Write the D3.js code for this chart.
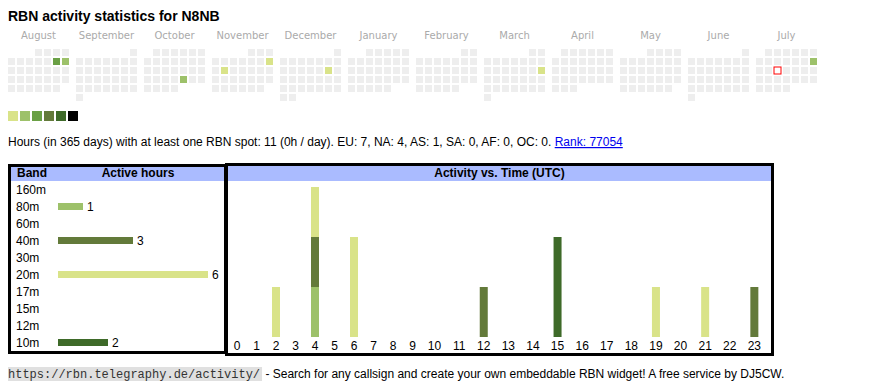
<!DOCTYPE html>
<html>
<head>
<meta charset="utf-8">
<script src="https://cdn.jsdelivr.net/npm/d3@7"></script>
<style>
body { margin: 0; background: #fff; }
text { font-family: Arial, "Liberation Sans", sans-serif; font-size: 12px; fill: #000; }
.month { font-family: "DejaVu Sans", Verdana, sans-serif; font-size: 10px; fill: #aaa; }
.bold { font-weight: bold; }
.mono { font-family: "Liberation Mono", "Courier New", monospace; font-size: 12px; fill: #333; }
</style>
</head>
<body>
<script>
// calendar data (one year, Aug 2024 - Jul 2025)
const monthNames = ["August", "September", "October", "November", "December", "January",
    "February", "March", "April", "May", "June", "July"];
const firstMonth = "2024-08-01";
const activeDays = ["2024-08-10", "2024-08-11", "2024-10-25", "2024-11-10", "2024-11-12",
    "2024-12-14", "2025-03-16", "2025-07-13"];
const activeLevels = [3, 2, 2, 1, 1, 1, 1, 2];
const today = "2025-07-16";
const levelColors = ["#d9e389", "#9dc16a", "#6aa045", "#637a3a", "#3e6a29", "#000000"];

// bands
const bands = ["160m", "80m", "60m", "40m", "30m", "20m", "17m", "15m", "12m", "10m"];
const bandHours = [0, 1, 0, 3, 0, 6, 0, 0, 0, 2];
const bandColors = ["#000000", "#9dc16a", "#6aa045", "#637a3a", "#6aa045", "#d9e389",
    "#9dc16a", "#637a3a", "#6aa045", "#3e6a29"];

// activity vs. hour of day (UTC), per band
const hours = d3.range(0, 24);
const act80m = [0,0,0,0,1,0,0,0,0,0,0,0,0,0,0,0,0,0,0,0,0,0,0,0];
const act40m = [0,0,0,0,1,0,0,0,0,0,0,0,1,0,0,0,0,0,0,0,0,0,0,1];
const act20m = [0,0,1,0,1,0,2,0,0,0,0,0,0,0,0,0,0,0,0,1,0,1,0,0];
const act10m = [0,0,0,0,0,0,0,0,0,0,0,0,0,0,0,2,0,0,0,0,0,0,0,0];

const statsLine = "Hours (in 365 days) with at least one RBN spot: 11 (0h / day). EU: 7, NA: 4, AS: 1, SA: 0, AF: 0, OC: 0. ";
const rankText = "Rank: 77054";
const footerUrl = "https://rbn.telegraphy.de/activity/";
const footerText = " - Search for any callsign and create your own embeddable RBN widget! A free service by DJ5CW.";

const svg = d3.select("body").append("svg")
    .attr("width", 870)
    .attr("height", 390);

svg.append("text")
    .attr("class", "bold")
    .attr("x", 8)
    .attr("y", 21)
    .style("font-size", "14px")
    .text("RBN activity statistics for N8NB");

// ---- calendar ----
const parse = d3.timeParse("%Y-%m-%d");
const start = parse(firstMonth);
const months = d3.timeMonths(start, d3.timeMonth.offset(start, 12));
const xMonth = d3.scaleLinear().domain([0, 12]).range([8, 8 + 12 * 68]);
const cell = 7, pitch = 9, calTop = 49;

const levelByDay = new Map(activeDays.map((d, i) => [d, activeLevels[i]]));
const fmt = d3.timeFormat("%Y-%m-%d");
const color = d3.scaleOrdinal().domain(d3.range(1, 7)).range(levelColors);

const monthG = svg.selectAll(".monthblock")
    .data(months)
    .enter()
    .append("g")
    .attr("class", "monthblock")
    .attr("transform", (d, i) => "translate(" + xMonth(i) + "," + calTop + ")");

monthG.append("text")
    .attr("class", "month")
    .attr("x", (6 * pitch + cell) / 2)
    .attr("y", -10)
    .attr("text-anchor", "middle")
    .text((d, i) => monthNames[i]);

monthG.selectAll("rect")
    .data(m => d3.timeDays(m, d3.timeMonth.offset(m, 1)).map(d => ({day: d, month: m})))
    .enter()
    .append("rect")
    .attr("x", d => ((d.day.getDay() + 6) % 7) * pitch)
    .attr("y", d => d3.timeMonday.count(d.month, d.day) * pitch)
    .attr("width", cell)
    .attr("height", cell)
    .style("fill", d => {
        const k = fmt(d.day);
        if (k === today) return "#fff";
        return levelByDay.has(k) ? color(levelByDay.get(k)) : "#eee";
    })
    .style("stroke", d => fmt(d.day) === today ? "#f00" : "none")
    .style("stroke-width", 1);

// legend
svg.selectAll(".legend")
    .data(levelColors)
    .enter()
    .append("rect")
    .attr("class", "legend")
    .attr("x", (d, i) => 8 + i * 12)
    .attr("y", 111)
    .attr("width", 10)
    .attr("height", 10)
    .style("fill", d => d);

const stats = svg.append("text")
    .attr("x", 8)
    .attr("y", 146);
stats.append("tspan").text(statsLine);
stats.append("tspan")
    .style("fill", "#00e")
    .style("text-decoration", "underline")
    .text(rankText);

// ---- band table ----
const bandBox = {x: 9.5, y: 165.5, w: 216, h: 187};
svg.append("rect")
    .attr("x", bandBox.x + 1.5)
    .attr("y", bandBox.y + 1.5)
    .attr("width", bandBox.w - 3)
    .attr("height", 14)
    .style("fill", "#abf");
svg.append("rect")
    .attr("x", bandBox.x)
    .attr("y", bandBox.y)
    .attr("width", bandBox.w)
    .attr("height", bandBox.h)
    .style("fill", "none")
    .style("stroke", "#000")
    .style("stroke-width", 3);

svg.append("text").attr("class", "bold").attr("x", 17).attr("y", 177).text("Band");
svg.append("text").attr("class", "bold").attr("x", 138).attr("y", 177)
    .attr("text-anchor", "middle").text("Active hours");

const yBand = d3.scalePoint().domain(bands).range([189.5, 342.5]);
const xBand = d3.scaleLinear().domain([0, 6]).range([58, 208]);

const bandRow = svg.selectAll(".bandrow")
    .data(bands.map((b, i) => ({band: b, hours: bandHours[i], color: bandColors[i]})))
    .enter()
    .append("g")
    .attr("class", "bandrow");

bandRow.append("text")
    .attr("x", 16)
    .attr("y", d => yBand(d.band) + 4)
    .text(d => d.band);

const activeRows = bandRow.filter(d => d.hours > 0);
activeRows.append("rect")
    .attr("x", xBand(0))
    .attr("y", d => yBand(d.band) - 3.5)
    .attr("width", d => xBand(d.hours) - xBand(0))
    .attr("height", 7)
    .style("fill", d => d.color);
activeRows.append("text")
    .attr("x", d => xBand(d.hours) + 4)
    .attr("y", d => yBand(d.band) + 4)
    .text(d => d.hours);

// ---- activity vs. time ----
const timeBox = {x: 226.5, y: 164.5, w: 546, h: 190};
svg.append("rect")
    .attr("x", timeBox.x + 1.5)
    .attr("y", timeBox.y + 1.5)
    .attr("width", timeBox.w - 3)
    .attr("height", 15)
    .style("fill", "#abf");
svg.append("rect")
    .attr("x", timeBox.x)
    .attr("y", timeBox.y)
    .attr("width", timeBox.w)
    .attr("height", timeBox.h)
    .style("fill", "none")
    .style("stroke", "#000")
    .style("stroke-width", 3);
svg.append("text").attr("class", "bold")
    .attr("x", timeBox.x + timeBox.w / 2)
    .attr("y", 177)
    .attr("text-anchor", "middle")
    .text("Activity vs. Time (UTC)");

// columns are laid out like table cells: two-digit hours take more room
const colW = h => String(h).length === 1 ? 19.5 : 24.6;
let acc = 227.25;
const hourCenters = hours.map(h => { const c = acc + colW(h) / 2; acc += colW(h); return c; });
const xHour = d3.scaleOrdinal().domain(hours).range(hourCenters);
const yAct = d3.scaleLinear().domain([0, 3]).range([337, 187]);

const hourRows = hours.map(h => {
    const row = {hour: h};
    bands.forEach(b => row[b] = 0);
    row["80m"] = act80m[h];
    row["40m"] = act40m[h];
    row["20m"] = act20m[h];
    row["10m"] = act10m[h];
    return row;
});
const series = d3.stack().keys(bands)(hourRows);

svg.append("g")
    .selectAll("g")
    .data(series)
    .enter()
    .append("g")
    .style("fill", (d, i) => bandColors[i])
    .selectAll("rect")
    .data(d => d.filter(p => p[1] > p[0]))
    .enter()
    .append("rect")
    .attr("x", d => xHour(d.data.hour) - 4)
    .attr("y", d => yAct(d[1]))
    .attr("width", 8)
    .attr("height", d => yAct(d[0]) - yAct(d[1]));

svg.append("g")
    .selectAll("text")
    .data(hours)
    .enter()
    .append("text")
    .attr("x", d => xHour(d))
    .attr("y", 350)
    .attr("text-anchor", "middle")
    .text(d => d);

// ---- footer ----
const urlBg = svg.append("rect").style("fill", "#e0e0e0");
const url = svg.append("text")
    .attr("class", "mono")
    .attr("x", 8)
    .attr("y", 378)
    .text(footerUrl);
const urlW = url.node().getComputedTextLength();
urlBg.attr("x", 8).attr("y", 367).attr("width", urlW + 2).attr("height", 14);
svg.append("text")
    .attr("x", 8 + urlW + 2)
    .attr("y", 378)
    .style("white-space", "pre")
    .text(footerText);
</script>
</body>
</html>
